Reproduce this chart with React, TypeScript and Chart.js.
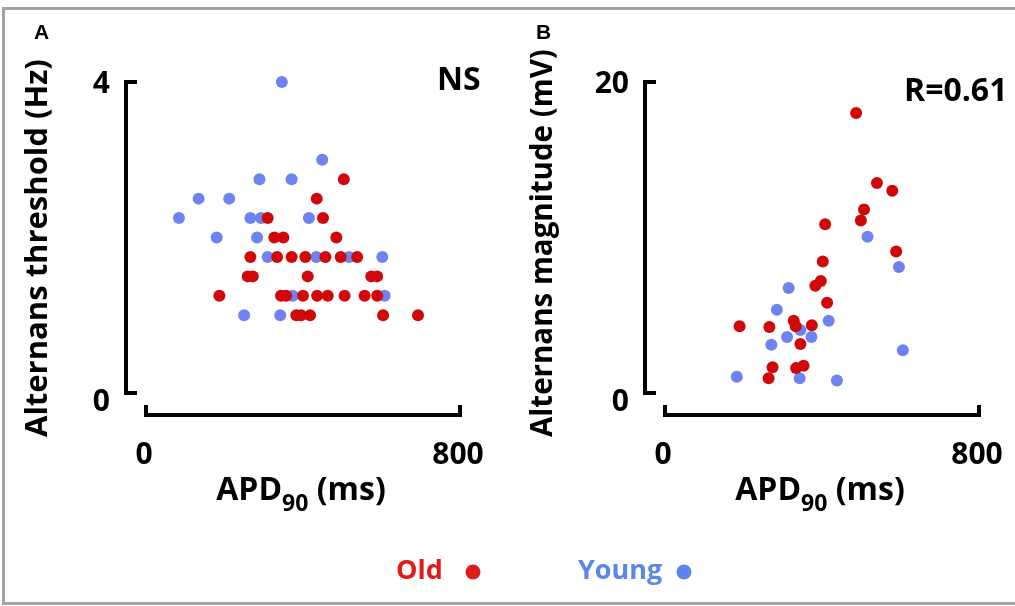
import React, { useEffect, useRef } from 'react';
import { Chart, registerables } from 'chart.js';

Chart.register(...registerables);

const FONT = '"Open Sans", "Liberation Sans", sans-serif';
const LETTER_FONT = '"Liberation Sans Narrow", "Liberation Sans", sans-serif';

const RED = '#d10808';
const BLUE = '#6f82f2';
const LEGEND_RED = '#e01b1b';
const LEGEND_BLUE = '#5b86ec';

// ---------- shared axis labels ----------
const xTickValues = [0, 800];
const xTickLabels = ['0', '800'];
const seriesNames = ['Old', 'Young'];

// ---------- Panel A: alternans threshold (Hz) vs APD90 (ms) ----------
const thresholdTickValues = [0, 4];
const thresholdTickLabels = ['0', '4'];

const oldThresholdApd = [504, 435, 310, 451, 327, 350, 485, 266, 334, 371, 406, 457, 496, 538, 259, 272, 412, 574, 589, 187, 344, 357, 400, 436, 463, 506, 557, 589, 383, 395, 418, 604, 693];
const oldThreshold = [2.75, 2.5, 2.25, 2.25, 2.0, 2.0, 2.0, 1.75, 1.75, 1.75, 1.75, 1.75, 1.75, 1.75, 1.5, 1.5, 1.5, 1.5, 1.5, 1.25, 1.25, 1.25, 1.25, 1.25, 1.25, 1.25, 1.25, 1.25, 1.0, 1.0, 1.0, 1.0, 1.0];

const youngThresholdApd = [346, 449, 289, 371, 134, 212, 84, 266, 293, 415, 180, 283, 310, 434, 517, 602, 374, 608, 250, 342];
const youngThreshold = [4.0, 3.0, 2.75, 2.75, 2.5, 2.5, 2.25, 2.25, 2.25, 2.25, 2.0, 2.0, 1.75, 1.75, 1.75, 1.75, 1.25, 1.25, 1.0, 1.0];

// ---------- Panel B: alternans magnitude (mV) vs APD90 (ms) ----------
const magnitudeTickValues = [0, 20];
const magnitudeTickLabels = ['0', '20'];

const oldMagnitudeApd = [487, 540, 579, 507, 499, 408, 589, 402, 397, 383, 413, 190, 266, 328, 333, 374, 345, 274, 264, 334, 353];
const oldMagnitude = [18.0, 13.5, 13.0, 11.8, 11.1, 10.85, 9.1, 8.45, 7.2, 6.9, 5.8, 4.3, 4.25, 4.65, 4.3, 4.35, 3.15, 1.65, 0.95, 1.6, 1.75];

const youngMagnitudeApd = [516, 596, 315, 285, 417, 345, 311, 373, 271, 606, 183, 343, 438];
const youngMagnitude = [10.05, 8.1, 6.75, 5.35, 4.65, 4.05, 3.6, 3.6, 3.1, 2.75, 1.05, 0.95, 0.8];

const toPoints = (xs: number[], ys: number[]) => xs.map((x, i) => ({ x, y: ys[i] }));

type PanelCfg = {
  letter: string;
  letterX: number;
  yTickValues: number[];
  yTickLabels: string[];
  yTitle: string;
  yTitleX: number;
  yTitleSize: number;
  note: string;
  noteX: number;
  noteY: number;
  drawFrame: boolean;
};

function panelPlugin(cfg: PanelCfg) {
  return {
    id: 'panelDecor' + cfg.letter,
    afterDraw(chart: any) {
      const ctx: CanvasRenderingContext2D = chart.ctx;
      const xs = chart.scales.x;
      const ys = chart.scales.y;
      const area = chart.chartArea;
      ctx.save();

      if (cfg.drawFrame) {
        ctx.strokeStyle = '#a3a3a3';
        ctx.lineWidth = 3;
        ctx.beginPath();
        ctx.moveTo(1016, 8.5);
        ctx.lineTo(3.5, 8.5);
        ctx.lineTo(3.5, 603.5);
        ctx.lineTo(1016, 603.5);
        ctx.stroke();

        // legend
        ctx.textBaseline = 'middle';
        ctx.textAlign = 'left';
        ctx.font = `bold 27px ${FONT}`;
        ctx.fillStyle = LEGEND_RED;
        ctx.fillText(seriesNames[0], 396, 571);
        ctx.beginPath();
        ctx.arc(473, 572, 7.5, 0, Math.PI * 2);
        ctx.fill();
        ctx.fillStyle = LEGEND_BLUE;
        ctx.fillText(seriesNames[1], 578, 571);
        ctx.beginPath();
        ctx.arc(684, 572, 7.5, 0, Math.PI * 2);
        ctx.fill();
      }

      // brackets
      const yTop = ys.getPixelForValue(cfg.yTickValues[1]);
      const yBot = ys.getPixelForValue(cfg.yTickValues[0]);
      const bx = area.left - 20;
      ctx.strokeStyle = '#000';
      ctx.lineWidth = 4;
      ctx.lineJoin = 'miter';
      ctx.beginPath();
      ctx.moveTo(bx + 11, yTop);
      ctx.lineTo(bx, yTop);
      ctx.lineTo(bx, yBot);
      ctx.lineTo(bx + 11, yBot);
      ctx.stroke();

      const x0 = xs.getPixelForValue(xTickValues[0]);
      const x1 = xs.getPixelForValue(xTickValues[1]);
      const by = area.bottom + 22;
      ctx.beginPath();
      ctx.moveTo(x0, by - 10);
      ctx.lineTo(x0, by);
      ctx.lineTo(x1, by);
      ctx.lineTo(x1, by - 10);
      ctx.stroke();

      // tick labels
      ctx.fillStyle = '#000';
      ctx.font = `bold 30px ${FONT}`;
      ctx.textBaseline = 'middle';
      ctx.textAlign = 'right';
      ctx.fillText(cfg.yTickLabels[1], area.left - 36, yTop + 2);
      ctx.fillText(cfg.yTickLabels[0], area.left - 36, yBot + 9);
      ctx.textAlign = 'center';
      xTickValues.forEach((v, i) => {
        ctx.fillText(xTickLabels[i], xs.getPixelForValue(v) - 2, 455);
      });

      // x title with subscript
      const cx = (x0 + x1) / 2 - 2;
      ctx.textBaseline = 'alphabetic';
      ctx.textAlign = 'left';
      ctx.font = `bold 32px ${FONT}`;
      const w1 = ctx.measureText('APD').width;
      const w3 = ctx.measureText(' (ms)').width;
      ctx.font = `bold 23px ${FONT}`;
      const w2 = ctx.measureText('90').width;
      let sx = cx - (w1 + w2 + w3) / 2;
      ctx.font = `bold 32px ${FONT}`;
      ctx.fillText('APD', sx, 500);
      sx += w1;
      ctx.font = `bold 23px ${FONT}`;
      ctx.fillText('90', sx, 511);
      sx += w2;
      ctx.font = `bold 32px ${FONT}`;
      ctx.fillText(' (ms)', sx, 500);

      // y title
      ctx.save();
      ctx.translate(cfg.yTitleX, 437);
      ctx.rotate(-Math.PI / 2);
      ctx.font = `bold ${cfg.yTitleSize}px ${FONT}`;
      ctx.textAlign = 'left';
      ctx.textBaseline = 'middle';
      ctx.fillText(cfg.yTitle, 0, 0);
      ctx.restore();

      // annotation
      ctx.font = `bold 32px ${FONT}`;
      ctx.textAlign = 'left';
      ctx.textBaseline = 'middle';
      ctx.fillText(cfg.note, cfg.noteX, cfg.noteY);

      // panel letter
      ctx.font = `bold 21px ${LETTER_FONT}`;
      ctx.fillText(cfg.letter, cfg.letterX, 33);

      ctx.restore();
    },
  };
}

function makeConfig(
  oldPts: { x: number; y: number }[],
  youngPts: { x: number; y: number }[],
  yMax: number,
  padding: { left: number; right: number; top: number; bottom: number },
  cfg: PanelCfg
): any {
  return {
    type: 'scatter',
    data: {
      datasets: [
        {
          label: seriesNames[0],
          data: oldPts,
          backgroundColor: RED,
          borderWidth: 0,
          pointRadius: 6,
          pointHoverRadius: 6,
          clip: false,
        },
        {
          label: seriesNames[1],
          data: youngPts,
          backgroundColor: BLUE,
          borderWidth: 0,
          pointRadius: 6,
          pointHoverRadius: 6,
          clip: false,
        },
      ],
    },
    options: {
      responsive: false,
      animation: false,
      events: [],
      layout: { padding },
      scales: {
        x: { type: 'linear', min: xTickValues[0], max: xTickValues[1], display: false },
        y: { type: 'linear', min: 0, max: yMax, display: false },
      },
      plugins: { legend: { display: false }, tooltip: { enabled: false } },
    },
    plugins: [panelPlugin(cfg)],
  };
}

export default function App() {
  const refA = useRef<HTMLCanvasElement>(null);
  const refB = useRef<HTMLCanvasElement>(null);

  useEffect(() => {
    const chartA = new Chart(
      refA.current as HTMLCanvasElement,
      makeConfig(
        toPoints(oldThresholdApd, oldThreshold),
        toPoints(youngThresholdApd, youngThreshold),
        thresholdTickValues[1],
        { left: 146, right: 1015 - 460, top: 82, bottom: 606 - 393 },
        {
          letter: 'A',
          letterX: 34,
          yTickValues: thresholdTickValues,
          yTickLabels: thresholdTickLabels,
          yTitle: 'Alternans threshold (Hz)',
          yTitleX: 38,
          yTitleSize: 31,
          note: 'NS',
          noteX: 437,
          noteY: 81,
          drawFrame: true,
        }
      )
    );
    const chartB = new Chart(
      refB.current as HTMLCanvasElement,
      makeConfig(
        toPoints(oldMagnitudeApd, oldMagnitude),
        toPoints(youngMagnitudeApd, youngMagnitude),
        magnitudeTickValues[1],
        { left: 665, right: 1015 - 979, top: 82, bottom: 606 - 393 },
        {
          letter: 'B',
          letterX: 536,
          yTickValues: magnitudeTickValues,
          yTickLabels: magnitudeTickLabels,
          yTitle: 'Alternans magnitude (mV)',
          yTitleX: 544,
          yTitleSize: 29.5,
          note: 'R=0.61',
          noteX: 904,
          noteY: 92,
          drawFrame: false,
        }
      )
    );
    return () => {
      chartA.destroy();
      chartB.destroy();
    };
  }, []);

  return (
    <div style={{ position: 'fixed', left: 0, top: 0, width: 1015, height: 606, background: '#fff' }}>
      <canvas ref={refA} width={1015} height={606} style={{ position: 'absolute', left: 0, top: 0 }} />
      <canvas ref={refB} width={1015} height={606} style={{ position: 'absolute', left: 0, top: 0 }} />
    </div>
  );
}
